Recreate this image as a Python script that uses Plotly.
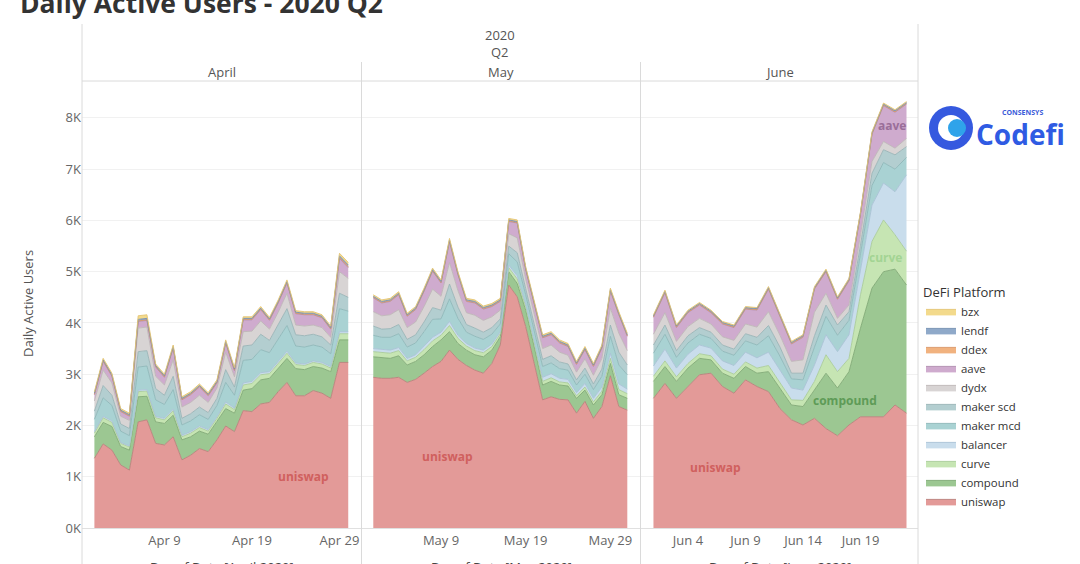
import plotly.graph_objects as go
import pandas as pd

# ---------------- DATA ----------------
platforms = ["uniswap", "compound", "curve", "balancer", "maker mcd", "maker scd",
             "dydx", "aave", "ddex", "lendf", "bzx"]

dates_apr = pd.date_range("2020-04-01", "2020-04-30", freq="D")
dates_may = pd.date_range("2020-05-01", "2020-05-31", freq="D")
dates_jun = pd.date_range("2020-06-01", "2020-06-23", freq="D")

uniswap_apr = [1360,1640,1520,1230,1130,2070,2110,1650,1620,1780,1330,1420,1550,1490,1720,1990,1880,2290,2270,2420,2450,2660,2840,2580,2580,2680,2630,2530,3230,3230]
compound_apr = [420,420,460,360,390,490,460,420,420,420,390,360,340,340,360,340,360,400,450,470,470,460,470,530,510,470,490,520,440,440]
curve_apr = [70,90,80,60,60,100,100,80,70,90,60,70,70,60,60,90,70,100,100,100,90,100,100,80,80,80,80,70,120,120]
balancer_apr = [30,30,30,20,20,30,30,30,30,30,30,30,30,30,30,40,30,40,40,40,40,40,40,30,30,30,30,30,40,40]
makermcd_apr = [240,360,300,220,200,450,460,320,270,380,200,210,220,200,220,380,250,440,430,450,370,420,500,330,330,310,300,250,450,400]
makerscd_apr = [160,240,200,140,140,300,300,220,180,260,130,140,150,130,140,250,160,280,280,300,240,280,330,220,220,210,200,170,300,270]
dydx_apr = [200,300,240,150,160,460,460,240,200,320,220,220,230,200,200,340,200,280,270,260,220,250,300,190,190,180,180,150,420,370]
aave_apr = [120,170,130,90,80,130,130,180,150,230,140,150,160,130,100,180,120,230,220,220,170,180,200,220,220,200,190,160,260,210]
ddex_apr = [10,10,10,10,10,10,10,10,10,10,10,10,10,10,10,10,10,10,10,10,10,10,10,10,10,10,10,10,20,20]
lendf_apr = [20,20,20,20,20,30,30,20,20,20,20,20,20,20,20,20,20,20,20,20,20,20,20,20,20,20,20,20,30,30]
bzx_apr = [30,30,30,30,30,70,70,30,30,30,30,30,30,30,30,30,30,30,30,30,30,30,30,30,30,30,30,30,50,50]

uniswap_may = [2940,2920,2920,2940,2840,2900,3020,3150,3250,3470,3290,3170,3080,3020,3210,3570,4740,4510,3930,3210,2500,2560,2510,2500,2240,2470,2140,2370,2970,2370,2300]
compound_may = [400,410,390,420,340,350,360,390,420,360,310,300,300,320,260,160,260,260,320,330,290,300,280,270,290,220,260,230,240,230,230]
curve_may = [100,90,100,100,80,80,100,110,90,120,100,80,80,80,70,60,80,90,70,70,70,70,60,60,50,60,60,70,100,100,90]
balancer_may = [60,60,60,60,50,50,60,70,60,80,60,50,50,50,50,40,50,60,50,50,80,80,70,70,60,70,70,80,100,110,90]
makermcd_may = [260,240,250,270,220,230,290,350,260,440,330,220,230,210,190,150,220,270,180,190,210,210,190,180,150,180,170,210,330,370,280]
makerscd_may = [180,160,170,180,150,160,190,230,170,290,220,150,160,140,130,100,150,180,120,130,140,140,130,120,100,120,110,140,220,250,190]
dydx_may = [280,260,270,290,230,250,300,360,270,420,320,230,250,230,210,170,240,290,190,210,210,210,190,170,150,180,170,210,330,370,280]
aave_may = [270,250,260,290,220,240,300,350,260,400,310,220,240,220,200,170,240,290,180,200,210,200,180,170,150,180,170,200,330,360,280]
ddex_may = [10,10,10,10,10,10,10,10,10,20,10,10,10,10,10,10,10,10,10,10,10,10,10,10,10,10,10,10,10,10,10]
lendf_may = [20,20,20,20,20,20,20,20,20,20,20,20,20,20,20,20,20,20,20,20,20,20,20,20,20,20,20,20,20,20,20]
bzx_may = [30,30,30,30,30,30,30,30,30,30,30,30,30,30,30,30,30,30,30,30,30,30,30,30,30,30,30,30,30,30,30]

uniswap_jun = [2530,2820,2530,2760,2990,3020,2760,2630,2890,2760,2660,2330,2110,2010,2140,1940,1800,2010,2170,2170,2170,2400,2240]
compound_jun = [330,330,330,360,320,260,260,290,260,260,390,400,290,360,550,1080,930,1040,1730,2510,2830,2650,2500]
curve_jun = [100,110,90,90,90,80,80,80,90,100,120,110,100,120,170,360,320,260,650,910,1010,670,660]
balancer_jun = [200,230,170,180,170,150,160,170,190,200,260,230,230,200,320,390,390,460,520,710,720,840,1490]
makermcd_jun = [250,290,210,220,210,190,190,200,220,250,320,280,180,200,350,360,320,280,280,380,400,440,340]
makerscd_jun = [160,180,130,140,130,120,120,120,140,150,200,180,110,130,220,220,200,170,170,240,250,280,210]
dydx_jun = [210,240,180,180,180,160,160,170,190,200,270,230,230,260,460,230,130,130,200,230,160,130,160]
aave_jun = [330,390,270,270,260,220,250,250,290,330,440,380,340,440,450,420,370,470,400,530,700,700,670]
ddex_jun = [10,10,10,10,10,10,10,10,10,10,10,10,10,10,10,10,10,10,10,10,10,10,10]
lendf_jun = [20,20,20,20,20,20,20,20,20,20,20,20,20,20,20,20,20,20,20,20,20,20,20]
bzx_jun = [20,20,20,20,20,20,20,20,20,20,20,20,20,20,20,20,20,20,20,20,20,20,20]

y_tickvals = [0, 1000, 2000, 3000, 4000, 5000, 6000, 7000, 8000]
y_ticktext = ["0K", "1K", "2K", "3K", "4K", "5K", "6K", "7K", "8K"]
month_names = ["April", "May", "June"]
x_tickvals = [["2020-04-09", "2020-04-19", "2020-04-29"],
              ["2020-05-09", "2020-05-19", "2020-05-29"],
              ["2020-06-04", "2020-06-09", "2020-06-14", "2020-06-19"]]
x_ticktext = [["Apr 9", "Apr 19", "Apr 29"],
              ["May 9", "May 19", "May 29"],
              ["Jun 4", "Jun 9", "Jun 14", "Jun 19"]]
x_titles = ["Day of Date [April 2020]", "Day of Date [May 2020]", "Day of Date [June 2020]"]

series = {
    "apr": [uniswap_apr, compound_apr, curve_apr, balancer_apr, makermcd_apr, makerscd_apr,
            dydx_apr, aave_apr, ddex_apr, lendf_apr, bzx_apr],
    "may": [uniswap_may, compound_may, curve_may, balancer_may, makermcd_may, makerscd_may,
            dydx_may, aave_may, ddex_may, lendf_may, bzx_may],
    "jun": [uniswap_jun, compound_jun, curve_jun, balancer_jun, makermcd_jun, makerscd_jun,
            dydx_jun, aave_jun, ddex_jun, lendf_jun, bzx_jun],
}
dates = {"apr": dates_apr, "may": dates_may, "jun": dates_jun}

# ---------------- STYLE ----------------
fills = {
    "uniswap": "#E39A98", "compound": "#9CC792", "curve": "#C6E5B3", "balancer": "#C9DDEC",
    "maker mcd": "#A9D2D3", "maker scd": "#B3CED0", "dydx": "#D8D4D4", "aave": "#CFABCE",
    "ddex": "#F1B27F", "lendf": "#8FA9C9", "bzx": "#F3DA8C",
}
edges = {
    "uniswap": "#B9807A", "compound": "#7FA874", "curve": "#A9CC98", "balancer": "#A9C2D6",
    "maker mcd": "#8DB7B8", "maker scd": "#98B3B5", "dydx": "#BDB7B7", "aave": "#B08DAF",
    "ddex": "#D8976A", "lendf": "#7590B0", "bzx": "#E3C474",
}

W, H = 1080, 564
FONT = "Open Sans, Noto Sans, sans-serif"


def fx(px):
    return px / W


def fy(py):
    return 1 - py / H


panel_px = [(82, 361), (362, 640), (641, 918)]
y_dom = [fy(528), fy(80)]
x_ranges = [["2020-03-30 14:00", "2020-05-01 11:00"],
            ["2020-04-29 16:00", "2020-06-01 12:00"],
            ["2020-05-30 22:00", "2020-06-24 00:00"]]

fig = go.Figure()
keys = ["apr", "may", "jun"]
for i, k in enumerate(keys):
    xa = "x" if i == 0 else f"x{i+1}"
    ya = "y" if i == 0 else f"y{i+1}"
    for p, vals in zip(platforms, series[k]):
        fig.add_trace(go.Scatter(
            x=dates[k], y=vals, name=p, mode="lines",
            stackgroup=k, legendgroup=p, showlegend=(i == 0),
            line=dict(color=edges[p], width=0.9),
            fillcolor=fills[p],
            xaxis=xa, yaxis=ya,
            hovertemplate=p + ": %{y}<extra></extra>",
        ))

layout = dict(
    width=W, height=H,
    margin=dict(l=0, r=0, t=0, b=0),
    paper_bgcolor="white", plot_bgcolor="white",
    font=dict(family=FONT, size=13, color="#555555"),
    showlegend=True,
    legend=dict(
        x=fx(921), y=fy(280), xanchor="left", yanchor="top",
        traceorder="reversed",
        title=dict(text="DeFi Platform", font=dict(size=13, color="#333333")),
        font=dict(size=11.4, color="#333333"),
        itemwidth=30, bgcolor="rgba(0,0,0,0)",
        tracegroupgap=0,
    ),
)
for i in range(3):
    sfx = "" if i == 0 else str(i + 1)
    x0, x1 = panel_px[i]
    layout["xaxis" + sfx] = dict(
        domain=[fx(x0), fx(x1)], range=x_ranges[i], type="date",
        anchor="y" + sfx, showgrid=False, zeroline=False,
        showline=True, linecolor="#E0E0E0", linewidth=1,
        tickvals=x_tickvals[i], ticktext=x_ticktext[i],
        tickfont=dict(size=13, color="#666666"), ticks="",
        automargin=False, fixedrange=True,
    )
    layout["yaxis" + sfx] = dict(
        domain=y_dom, range=[0, 8740], anchor="x" + sfx,
        tickvals=y_tickvals, ticktext=y_ticktext,
        showticklabels=(i == 0),
        tickfont=dict(size=13, color="#666666"),
        gridcolor="#F1F1F1", gridwidth=1, zeroline=False, showline=False,
        ticks="", automargin=False, fixedrange=True,
        **({} if i == 0 else {"matches": "y"}),
    )
fig.update_layout(**layout)

# ---------------- frame lines ----------------
line_col = "#DADADA"
shapes = [
    dict(type="line", xref="paper", yref="paper", x0=fx(82), x1=fx(82), y0=fy(24), y1=fy(564)),
    dict(type="line", xref="paper", yref="paper", x0=fx(918), x1=fx(918), y0=fy(24), y1=fy(564)),
    dict(type="line", xref="paper", yref="paper", x0=fx(361.5), x1=fx(361.5), y0=fy(62), y1=fy(564)),
    dict(type="line", xref="paper", yref="paper", x0=fx(640.5), x1=fx(640.5), y0=fy(62), y1=fy(564)),
    dict(type="line", xref="paper", yref="paper", x0=fx(82), x1=fx(918), y0=fy(81), y1=fy(81)),
]
for s in shapes:
    s["line"] = dict(color=line_col, width=1)
    s["layer"] = "above"

# logo (Consensys Codefi) approximation
cx, cy, r = 951, 128, 22
shapes += [
    dict(type="circle", xref="paper", yref="paper",
         x0=fx(cx - r), x1=fx(cx + r), y0=fy(cy + r), y1=fy(cy - r),
         fillcolor="#3559DF", line=dict(width=0)),
    dict(type="circle", xref="paper", yref="paper",
         x0=fx(cx - 13), x1=fx(cx + 13), y0=fy(cy + 13), y1=fy(cy - 13),
         fillcolor="white", line=dict(width=0)),
    dict(type="circle", xref="paper", yref="paper",
         x0=fx(cx - 3), x1=fx(cx + 15), y0=fy(cy + 9), y1=fy(cy - 9),
         fillcolor="#2FA3EA", line=dict(width=0)),
]
fig.update_layout(shapes=shapes)

# ---------------- text ----------------
ann = []


def txt(x, y, t, size=13, color="#555555", bold=False, xanchor="center", **kw):
    ann.append(dict(x=fx(x), y=fy(y), xref="paper", yref="paper", text=("<b>%s</b>" % t) if bold else t,
                    showarrow=False, xanchor=xanchor, yanchor="middle",
                    font=dict(size=size, color=color, family=FONT), **kw))


txt(18, 3, "Daily Active Users - 2020 Q2", size=26.5, color="#333333", bold=True, xanchor="left")
txt(500, 35, "2020")
txt(500, 52, "Q2")
for (x0, x1), m in zip(panel_px, month_names):
    txt((x0 + x1) / 2, 72, m)
for (x0, x1), t in zip(panel_px, x_titles):
    txt((x0 + x1) / 2, 567, t, color="#444444")
txt(28, 304, "Daily Active Users", textangle=-90)
txt(1000, 112, "CONSENSYS", size=7, color="#3A5BD9", bold=True, xanchor="left")
txt(974, 134, "Codefi", size=28, color="#2F5BE3", bold=True, xanchor="left")
fig.update_layout(annotations=ann)

# in-area labels (data coordinates)
lab = [
    ("x", "y", "2020-04-24 20:00", 1000, "uniswap", "#D0605E"),
    ("x2", "y2", "2020-05-09 17:00", 1390, "uniswap", "#D0605E"),
    ("x3", "y3", "2020-06-06 10:00", 1190, "uniswap", "#D0605E"),
    ("x3", "y3", "2020-06-17 16:00", 2480, "compound", "#5E9B57"),
    ("x3", "y3", "2020-06-21 05:00", 5270, "curve", "#A3D493"),
    ("x3", "y3", "2020-06-21 18:00", 7860, "aave", "#9A6E99"),
]
for xr, yr, x, y, t, c in lab:
    fig.add_annotation(x=x, y=y, xref=xr, yref=yr, text="<b>%s</b>" % t, showarrow=False,
                       font=dict(size=12, color=c, family=FONT))

fig.write_html("out.html", config={"displayModeBar": False},
               post_script="document.body.style.margin='0';document.body.style.overflow='hidden';")
